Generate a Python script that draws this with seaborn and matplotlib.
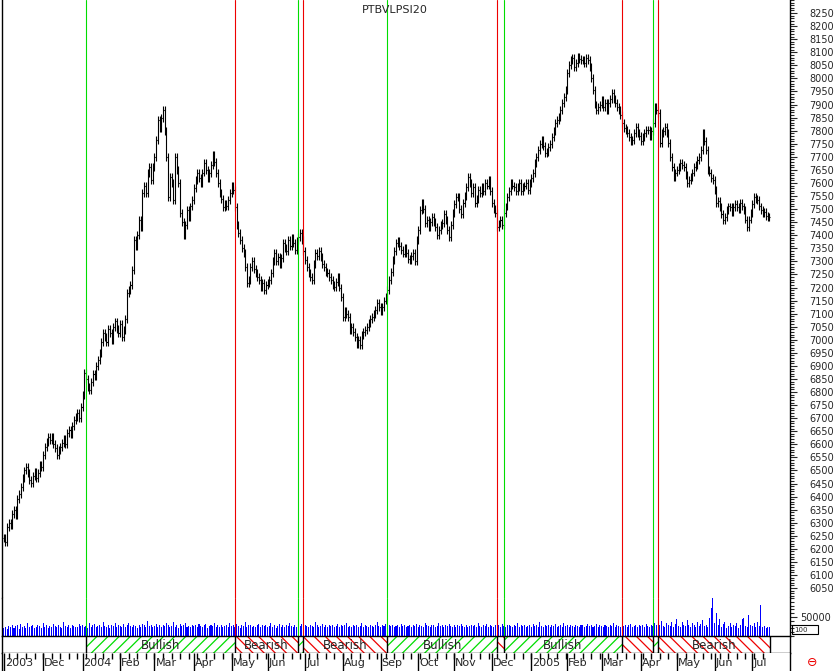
import numpy as np
import pandas as pd
import matplotlib
matplotlib.use("Agg")
import matplotlib.pyplot as plt
import seaborn as sns
from matplotlib.ticker import MultipleLocator
from matplotlib.patches import Rectangle

sns.set_style("white")
plt.rcParams['font.family'] = ['DejaVu Sans']
plt.rcParams['hatch.linewidth'] = 0.9

# daily closes (one bar per trading day)
close = [
    6240, 6225, 6283, 6300, 6290, 6335, 6350, 6330, 6390, 6410,
    6437, 6470, 6500, 6513, 6490, 6465, 6452, 6480, 6495, 6470,
    6490, 6520, 6513, 6560, 6590, 6610, 6628, 6615, 6630, 6600,
    6585, 6560, 6578, 6590, 6605, 6620, 6600, 6643, 6655, 6640,
    6670, 6693, 6705, 6720, 6700, 6743, 6790, 6873, 6850, 6820,
    6808, 6840, 6870, 6860, 6900, 6922, 6950, 6990, 7026, 7010,
    6990, 7040, 7026, 7000, 7050, 7070, 7040, 7026, 7060, 7010,
    7037, 7080, 7179, 7190, 7210, 7267, 7381, 7360, 7400, 7458,
    7430, 7561, 7590, 7560, 7638, 7660, 7610, 7661, 7700, 7764,
    7841, 7810, 7850, 7880, 7800, 7700, 7546, 7623, 7600, 7535,
    7699, 7650, 7600, 7485, 7450, 7400, 7440, 7496, 7470, 7510,
    7535, 7580, 7610, 7638, 7620, 7600, 7640, 7676, 7650, 7620,
    7638, 7670, 7707, 7680, 7638, 7600, 7560, 7540, 7508, 7520,
    7510, 7535, 7560, 7590, 7573, 7508, 7440, 7408, 7381, 7350,
    7332, 7280, 7217, 7230, 7278, 7300, 7270, 7255, 7240, 7228,
    7200, 7217, 7190, 7210, 7217, 7230, 7255, 7300, 7332, 7300,
    7316, 7290, 7313, 7370, 7350, 7340, 7381, 7360, 7390, 7370,
    7343, 7380, 7393, 7410, 7381, 7340, 7305, 7280, 7255, 7240,
    7228, 7290, 7332, 7320, 7340, 7316, 7290, 7278, 7260, 7255,
    7240, 7228, 7210, 7202, 7220, 7240, 7200, 7163, 7087, 7110,
    7100, 7087, 7037, 7050, 7030, 7010, 6985, 6999, 6980, 7018,
    7030, 7037, 7050, 7064, 7080, 7087, 7100, 7114, 7140, 7125,
    7110, 7125, 7150, 7163, 7190, 7228, 7260, 7305, 7340, 7370,
    7380, 7360, 7343, 7330, 7350, 7332, 7310, 7305, 7320, 7332,
    7300, 7381, 7420, 7496, 7523, 7500, 7447, 7460, 7431, 7450,
    7470, 7450, 7431, 7400, 7420, 7440, 7447, 7480, 7458, 7420,
    7393, 7440, 7485, 7520, 7546, 7546, 7500, 7480, 7523, 7550,
    7584, 7623, 7600, 7560, 7584, 7523, 7540, 7573, 7560, 7584,
    7570, 7600, 7590, 7611, 7570, 7523, 7500, 7485, 7431, 7445,
    7458, 7440, 7485, 7510, 7546, 7570, 7600, 7590, 7584, 7570,
    7584, 7600, 7570, 7584, 7590, 7600, 7573, 7600, 7620, 7638,
    7676, 7700, 7726, 7750, 7764, 7740, 7714, 7720, 7737, 7750,
    7776, 7800, 7829, 7840, 7852, 7880, 7906, 7930, 7955, 8020,
    8050, 8070, 8080, 8043, 8060, 8082, 8075, 8070, 8070, 8060,
    8080, 8070, 8043, 8000, 7955, 7900, 7880, 7890, 7900, 7917,
    7890, 7906, 7880, 7906, 7920, 7944, 7920, 7906, 7890, 7879,
    7860, 7829, 7810, 7802, 7790, 7776, 7760, 7764, 7790, 7814,
    7791, 7780, 7760, 7776, 7790, 7802, 7802, 7780, 7800, 7829,
    7890, 7880, 7867, 7753, 7791, 7800, 7814, 7790, 7753, 7700,
    7661, 7623, 7640, 7649, 7660, 7676, 7670, 7661, 7630, 7600,
    7610, 7623, 7640, 7661, 7670, 7688, 7700, 7726, 7791, 7760,
    7726, 7649, 7640, 7620, 7611, 7573, 7523, 7530, 7508, 7480,
    7458, 7470, 7496, 7510, 7508, 7490, 7508, 7520, 7508, 7500,
    7523, 7510, 7496, 7460, 7431, 7460, 7485, 7520, 7546, 7540,
    7535, 7510, 7496, 7485, 7490, 7475, 7470, 7470,
]

# daily volume, thousands
volume_k = [
    22, 25, 18, 27, 24, 30, 21, 26, 28, 19, 31, 24, 27, 22, 35, 23,
    26, 29, 21, 24, 30, 27, 22, 33, 25, 28, 20, 26, 24, 31, 27, 23,
    29, 25, 22, 36, 26, 24, 28, 21, 30, 27, 25, 23, 32, 26, 29, 24,
    27, 22, 34, 25, 28, 31, 23, 26, 29, 24, 37, 27, 25, 30, 22, 28,
    26, 33, 24, 29, 27, 23, 31, 25, 28, 35, 26, 24, 30, 27, 22, 29,
    25, 31, 28, 24, 39, 26, 29, 23, 27, 32, 25, 28, 24, 30, 26, 33,
    28, 24, 27, 36, 25, 29, 22, 31, 26, 28, 34, 25, 27, 23, 30, 26,
    29, 25, 32, 27, 24, 28, 31, 22, 27, 30, 26, 35, 24, 28, 25, 29,
    23, 27, 30, 25, 33, 26, 28, 24, 31, 27, 22, 29, 26, 38, 25, 28,
    30, 24, 27, 25, 29, 32, 23, 28, 26, 30, 24, 27, 35, 25, 28, 22,
    27, 31, 25, 28, 24, 29, 26, 33, 27, 23, 30, 25, 28, 26, 32, 24,
    29, 26, 23, 30, 27, 25, 36, 28, 24, 27, 31, 25, 29, 23, 28, 26,
    30, 25, 27, 32, 24, 28, 26, 29, 34, 25, 27, 23, 30, 26, 28, 24,
    27, 33, 25, 29, 26, 24, 30, 27, 25, 28, 37, 26, 24, 29, 27, 31,
    25, 28, 26, 30, 23, 27, 29, 25, 32, 26, 28, 24, 27, 30, 25, 29,
    26, 31, 24, 28, 27, 25, 33, 29, 26, 23, 28, 30, 25, 27, 35, 26,
    28, 24, 29, 26, 31, 27, 25, 30, 24, 28, 26, 32, 27, 25, 29, 23,
    27, 30, 26, 28, 25, 34, 27, 24, 29, 26, 31, 25, 28, 27, 24, 30,
    26, 29, 25, 32, 27, 24, 28, 30, 26, 25, 29, 27, 33, 24, 28, 26,
    30, 25, 27, 29, 24, 31, 26, 28, 25, 36, 27, 24, 29, 26, 30, 25,
    28, 26, 31, 24, 27, 29, 25, 33, 26, 28, 24, 30, 27, 25, 29, 26,
    24, 28, 30, 25, 27, 32, 26, 29, 24, 27, 31, 25, 28, 26, 23, 30,
    27, 25, 29, 26, 33, 24, 28, 27, 25, 30, 26, 29, 24, 28, 31, 25,
    27, 29, 24, 30, 26, 28, 25, 32, 27, 24, 29, 26, 35, 28, 25, 30,
    40, 27, 24, 33, 29, 26, 38, 25, 31, 45, 27, 24, 36, 29, 26, 41,
    30, 25, 34, 28, 24, 37, 27, 31, 42, 26, 29, 23, 48, 74, 100, 35,
    60, 28, 44, 25, 31, 38, 22, 27, 35, 24, 30, 26, 33, 21, 29, 45,
    48, 27, 23, 55, 30, 26, 34, 25, 38, 27, 82, 24, 26, 22, 25, 23,
]
assert len(close) == len(volume_k), (len(close), len(volume_k))

# signal bars (index of trading day)
green_sig = [48, 172, 224, 292, 379]
red_sig = [135, 175, 288, 361, 382]

# regime bands
band_start = [48, 135, 172, 175, 224, 288, 292, 361, 379, 382]
band_end = [135, 172, 175, 224, 288, 292, 361, 379, 382, 447.5]
band_kind = ['Bullish', 'Bearish', 'Bullish', 'Bearish', 'Bullish',
             'Bearish', 'Bullish', 'Bearish', 'Bullish', 'Bearish']
band_show = [True, True, False, True, True, False, True, False, False, True]

dates = pd.bdate_range('2003-10-29', periods=len(close))
n = len(close)
idx = np.arange(n)
close = np.array(close, dtype=float)
opens = np.r_[close[0], close[:-1]]
WICK = 15
hi = np.maximum(opens, close) + WICK
lo = np.minimum(opens, close) - WICK

W, H = 836, 671
def box(x0, y0, x1, y1):
    return [x0 / W, 1 - y1 / H, (x1 - x0) / W, (y1 - y0) / H]

fig = plt.figure(figsize=(W / 100, H / 100), dpi=100)
axp = fig.add_axes(box(2, 0, 790, 598))
axv = fig.add_axes(box(2, 598, 790, 636))
axb = fig.add_axes(box(2, 636, 790, 653))
axd = fig.add_axes(box(2, 653, 790, 671))
XLIM = (-1, 459)
GREEN = '#00dd00'
RED = '#ee0000'
LW = 0.8

# price bars
axp.vlines(idx, lo, hi, color='black', lw=LW)
axp.hlines(opens, idx - 0.6, idx, color='black', lw=LW)
axp.hlines(close, idx, idx + 0.6, color='black', lw=LW)
axp.set_xlim(XLIM)
axp.set_ylim(6012, 8300)
axp.yaxis.tick_right()
axp.set_yticks(np.arange(6050, 8251, 50))
axp.yaxis.set_minor_locator(MultipleLocator(10))
axp.tick_params(axis='y', which='major', length=5, width=0.8, pad=9,
                labelsize=7, direction='out')
axp.tick_params(axis='y', which='minor', length=3, width=0.8, direction='out')
axp.set_xticks([])

# volume
sns.barplot(x=idx, y=np.array(volume_k) * 1000, native_scale=True, color='#0000ff',
            saturation=1, width=0.6, errorbar=None, linewidth=0, ax=axv)
axv.set_xlim(XLIM)
axv.set_ylim(0, 100000)
axv.set_xlabel('')
axv.set_ylabel('')
axv.yaxis.tick_right()
axv.set_yticks([50000])
axv.set_yticklabels(['50000'])
axv.yaxis.set_minor_locator(MultipleLocator(10000))
axv.tick_params(axis='y', which='major', length=5, width=0.8, pad=2,
                labelsize=7, direction='out')
axv.tick_params(axis='y', which='minor', length=3, width=0.8, direction='out')
axv.set_xticks([])

for ax in (axp, axv):
    for i in green_sig:
        ax.axvline(i, color=GREEN, lw=LW)
    for i in red_sig:
        ax.axvline(i, color=RED, lw=LW)
    for s in ['top', 'bottom']:
        ax.spines[s].set_visible(False)
    for s in ['left', 'right']:
        ax.spines[s].set_visible(True)
        ax.spines[s].set_color('black')
        ax.spines[s].set_linewidth(1)

# regime band row
axb.set_xlim(XLIM)
axb.set_ylim(0, 1)
for s, e, k, show in zip(band_start, band_end, band_kind, band_show):
    col = GREEN if k == 'Bullish' else RED
    hatch = '///' if k == 'Bullish' else '\\\\\\'
    axb.axvspan(s, e, facecolor='white', edgecolor=col, hatch=hatch, lw=0)
    axb.axvline(s, color='black', lw=1)
    if show:
        axb.text((s + e) / 2, 0.45, k, ha='center', va='center', fontsize=8.5)
axb.axvline(band_end[-1], color='black', lw=1)
axb.set_xticks([])
axb.set_yticks([])
for s in axb.spines.values():
    s.set_visible(True)
    s.set_color('black')
    s.set_linewidth(1)

# date strip
axd.set_xlim(XLIM)
axd.set_ylim(0, 1)
axd.set_xticks([])
axd.set_yticks([])
for s in ['top', 'bottom']:
    axd.spines[s].set_visible(False)
for s in ['left', 'right']:
    axd.spines[s].set_color('black')
    axd.spines[s].set_linewidth(1)
month = dates.to_period('M')
starts = [(0, '2003')]
for i in range(1, n):
    if month[i] != month[i - 1] and i > 10:
        d = dates[i]
        starts.append((i, str(d.year) if d.month == 1 else d.strftime('%b')))
mondays = idx[dates.dayofweek == 0]
axd.vlines(mondays, 0.68, 1, color='black', lw=1)
for i, lab in starts:
    axd.vlines(i, 0, 1, color='black', lw=1)
    axd.text(i + 0.6, 0.42, lab, ha='left', va='center', fontsize=8)

fig.text(395 / W, 1 - 10 / H, 'PTBVLPSI20', ha='center', va='center', fontsize=8)
fig.patches.append(Rectangle((792 / W, 1 - 634 / H), 26 / W, 9 / H, fill=False,
                             edgecolor='black', lw=0.8, transform=fig.transFigure))
fig.text(794 / W, 1 - 629.5 / H, '100', ha='left', va='center', fontsize=5)
fig.text(812 / W, 1 - 663 / H, '\u2296', ha='center', va='center', fontsize=9, color=RED)

fig.savefig('out.png', dpi=100)
